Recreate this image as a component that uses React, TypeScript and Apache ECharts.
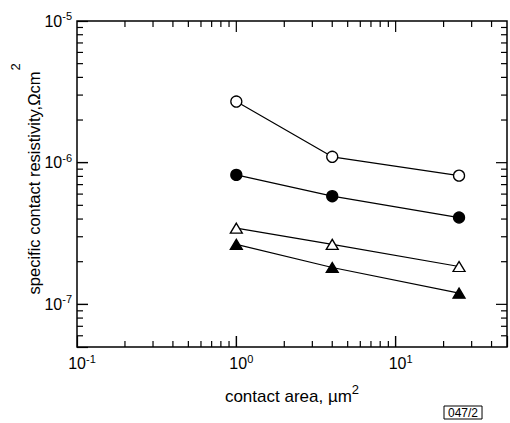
import React, { useEffect, useRef } from "react";
import * as echarts from "echarts";

// contact area (µm²) vs specific contact resistivity (Ωcm²)
const openCircle = [[1, 2.7e-6], [4, 1.1e-6], [25, 8.1e-7]];
const filledCircle = [[1, 8.2e-7], [4, 5.8e-7], [25, 4.1e-7]];
const openTriangle = [[1, 3.45e-7], [4, 2.65e-7], [25, 1.85e-7]];
const filledTriangle = [[1, 2.65e-7], [4, 1.82e-7], [25, 1.2e-7]];

const X_MIN = 0.1;
const X_MAX = 50;
const Y_MIN = 5e-8;
const Y_MAX = 1e-5;

const xMajorTicks = [1, 10];
const xMinorTicks = [0.2, 0.3, 0.4, 0.5, 0.6, 0.7, 0.8, 0.9, 2, 3, 4, 5, 6, 7, 8, 9, 20, 30, 40];
const yMajorTicks = [1e-7, 1e-6];
const yMinorTicks = [
  6e-8, 7e-8, 8e-8, 9e-8,
  2e-7, 3e-7, 4e-7, 5e-7, 6e-7, 7e-7, 8e-7, 9e-7,
  2e-6, 3e-6, 4e-6, 5e-6, 6e-6, 7e-6, 8e-6, 9e-6,
];

const Y_TITLE = "specific contact resistivity,\u03A9cm";
const X_TITLE = "contact area, µm";

const FONT = "'Liberation Sans', Arial, Helvetica, sans-serif";

const powLabel = (v: number) => {
  const e = Math.log10(v);
  const r = Math.round(e);
  if (Math.abs(e - r) > 1e-6) return "";
  return `{b|10}{e|${r}}`;
};

const labelRich = {
  b: { fontSize: 16, lineHeight: 16, padding: [5, 0, 0, 0], fontFamily: FONT, color: "#000" },
  e: { fontSize: 11, lineHeight: 11, verticalAlign: "top", fontFamily: FONT, color: "#000" },
};

const lineSeries = (data: number[][], symbol: string, filled: boolean, size: any) => ({
  type: "line",
  data,
  symbol,
  symbolSize: size,
  showSymbol: true,
  lineStyle: { color: "#000", width: 1.2 },
  itemStyle: {
    color: filled ? "#000" : "#fff",
    borderColor: "#000",
    borderWidth: 1.3,
  },
});

const staticGraphics = () => [
  {
    id: "code",
    type: "text",
    x: 444,
    y: 406,
    style: {
      text: "047/2",
      fontSize: 12,
      fontFamily: FONT,
      fill: "#000",
      borderColor: "#000",
      borderWidth: 1,
      padding: [1, 4, 0, 4],
    },
  },
  {
    id: "ytitle",
    type: "text",
    x: 34,
    y: 183,
    rotation: Math.PI / 2,
    style: {
      text: Y_TITLE,
      fontSize: 16.5,
      fontFamily: FONT,
      fill: "#000",
      align: "center",
      verticalAlign: "middle",
    },
  },
  {
    id: "ytitle2",
    type: "text",
    x: 15,
    y: 67,
    rotation: Math.PI / 2,
    style: {
      text: "2",
      fontSize: 13,
      fontFamily: FONT,
      fill: "#000",
      align: "center",
      verticalAlign: "middle",
    },
  },
];

export default function App() {
  const ref = useRef<HTMLDivElement>(null);
  useEffect(() => {
    if (!ref.current) return;
    const chart = echarts.init(ref.current, null, { renderer: "svg" });
    chart.setOption({
      animation: false,
      grid: {
        left: 77,
        right: 2,
        top: 21,
        bottom: 76,
        show: true,
        borderColor: "#000",
        borderWidth: 1.5,
        containLabel: false,
      },
      xAxis: {
        type: "log",
        min: X_MIN,
        max: X_MAX,
        axisLine: { show: false },
        axisTick: { show: true, inside: true, length: 11, lineStyle: { color: "#000", width: 1.2 } },
        splitLine: { show: false },
        axisLabel: {
          formatter: powLabel,
          rich: labelRich,
          margin: 6,
          padding: [0, 0, 0, 10],
          showMinLabel: true,
          showMaxLabel: true,
        },
        name: `{t|${X_TITLE}}{s|2}`,
        nameLocation: "middle",
        nameGap: 36,
        nameTextStyle: {
          rich: {
            t: { fontSize: 17, lineHeight: 17, padding: [9, 0, 0, 0], fontFamily: FONT, color: "#000" },
            s: { fontSize: 13, lineHeight: 13, verticalAlign: "top", fontFamily: FONT, color: "#000" },
          },
        },
      },
      yAxis: {
        type: "log",
        min: Y_MIN,
        max: Y_MAX,
        axisLine: { show: false },
        axisTick: { show: true, inside: true, length: 11, lineStyle: { color: "#000", width: 1.2 } },
        splitLine: { show: false },
        axisLabel: {
          formatter: powLabel,
          rich: labelRich,
          margin: 5,
          padding: [0, 0, 5, 0],
          showMinLabel: true,
          showMaxLabel: true,
        },
      },
      series: [
        lineSeries(openCircle, "circle", false, 11),
        lineSeries(filledCircle, "circle", true, 11),
        lineSeries(openTriangle, "triangle", false, [12, 10]),
        lineSeries(filledTriangle, "triangle", true, [12, 10]),
      ],
      graphic: staticGraphics(),
    });

    // inward tick marks on all four sides, placed through the axes' own scales
    const px = (x: number, y: number) => chart.convertToPixel({ gridIndex: 0 }, [x, y]) as number[];
    const ticks: any[] = [];
    const seg = (x1: number, y1: number, x2: number, y2: number) =>
      ticks.push({
        type: "line",
        silent: true,
        z: 100,
        shape: { x1, y1, x2, y2 },
        style: { stroke: "#000", lineWidth: 1.2 },
      });
    const addX = (list: number[], len: number) =>
      list.forEach((v) => {
        const b = px(v, Y_MIN);
        const t = px(v, Y_MAX);
        seg(b[0], b[1], b[0], b[1] - len);
        seg(t[0], t[1], t[0], t[1] + len);
      });
    const addY = (list: number[], len: number) =>
      list.forEach((v) => {
        const l = px(X_MIN, v);
        const r = px(X_MAX, v);
        seg(l[0], l[1], l[0] + len, l[1]);
        seg(r[0], r[1], r[0] - len, r[1]);
      });
    try {
      addX(xMajorTicks, 11);
      addX(xMinorTicks, 6);
      addY(yMajorTicks, 11);
      addY(yMinorTicks, 6);
    } catch (e) {
      // leave ticks out if conversion fails
    }
    chart.setOption({ graphic: [...staticGraphics(), ...ticks] });

    return () => chart.dispose();
  }, []);
  return (
    <div
      ref={ref}
      style={{ position: "absolute", left: 0, top: 0, width: 510, height: 423, background: "#fff" }}
    />
  );
}
